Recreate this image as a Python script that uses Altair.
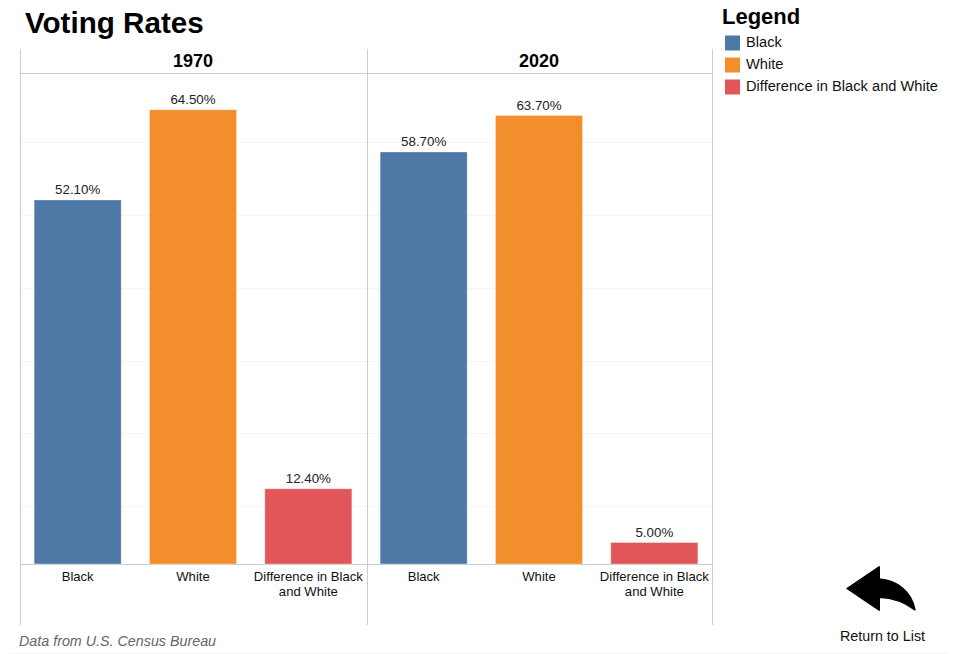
import altair as alt
import pandas as pd

years = ["1970", "1970", "1970", "2020", "2020", "2020"]
groups = ["Black", "White", "Difference in Black and White"] * 2
rates = [52.1, 64.5, 12.4, 58.7, 63.7, 5.0]
colors = ["#4e79a7", "#f28e2b", "#e15759"]
header_years = ["1970", "2020"]
grid_values = [10, 20, 30, 40, 50, 60]

FONT = "Liberation Sans"
BASE = 2.05

df = pd.DataFrame({"year": years, "group": groups, "rate": rates})
df["key"] = df["year"] + "|" + df["group"]
df["label"] = df["rate"].map(lambda v: f"{v:.2f}%")
df["base"] = BASE
key_order = df["key"].tolist()

hdr = pd.DataFrame({"key": [f"{y}|White" for y in header_years], "year": header_years})

x_scale = alt.Scale(domain=key_order, range=[-0.5, 691.5], paddingInner=0.245, paddingOuter=0.1225)
y_scale = alt.Scale(domain=[BASE, 69.55], range=[515, 24], nice=False, zero=False)

x_axis = alt.Axis(
    title=None, ticks=False, domainColor="#cccccc", labelAngle=0, labelFontSize=13.1,
    labelColor="#111111", labelPadding=6, labelLimit=200, labelLineHeight=15,
    labelExpr="indexof(datum.label,'Difference')>=0 ? ['Difference in Black','and White'] : split(datum.label,'|')[1]",
)
y_axis = alt.Axis(
    title=None, values=grid_values, grid=True, gridColor="#f5f5f5", labels=False,
    ticks=False, domain=False,
)

X = alt.X("key:N", scale=x_scale, axis=x_axis, sort=key_order)
Y = alt.Y("rate:Q", scale=y_scale, axis=y_axis)

bars = alt.Chart(df).mark_bar(stroke="#ffffff", strokeOpacity=0.35, strokeWidth=1).encode(
    x=X, y=Y, y2="base:Q",
    color=alt.Color(
        "group:N",
        scale=alt.Scale(domain=groups[:3], range=colors),
        legend=alt.Legend(
            title="Legend", orient="none", legendX=701.5, legendY=-42,
            titleFontSize=22, titleFont=FONT, titleFontWeight="bold", titleColor="#000000",
            titlePadding=6.5, labelFontSize=14.67, labelFont=FONT, labelColor="#111111",
            labelOffset=6, symbolType="square", symbolSize=225, symbolStrokeWidth=0,
            symbolOffset=3, rowPadding=6, labelLimit=300, titleLimit=200,
        ),
    ),
)

labels = alt.Chart(df).mark_text(baseline="bottom", dy=-3, fontSize=13.33, color="#222222", font=FONT).encode(
    x=X, y=Y, text="label:N"
)

headers = alt.Chart(hdr).mark_text(fontSize=18, fontWeight="bold", color="#000000", font=FONT).encode(
    x=X, y=alt.value(13), text="year:N"
)

one = alt.Data(values=[{"a": 1}])
rule_color = "#cccccc"
v_rules = [
    alt.Chart(one).mark_rule(color=rule_color).encode(x=alt.value(v), y=alt.value(0), y2=alt.value(576))
    for v in (0, 347, 692)
]
h_rule = alt.Chart(one).mark_rule(color=rule_color).encode(x=alt.value(0), x2=alt.value(692), y=alt.value(24.5))
foot_rule = alt.Chart(one).mark_rule(color="#f2f2f2").encode(x=alt.value(-12), x2=alt.value(934), y=alt.value(604.5))

footer = alt.Chart(one).mark_text(
    align="left", baseline="alphabetic", fontSize=14.3, fontStyle="italic", color="#666666", font=FONT
).encode(x=alt.value(-1.5), y=alt.value(597), text=alt.value("Data from U.S. Census Bureau"))

back_text = alt.Chart(one).mark_text(
    align="center", baseline="alphabetic", fontSize=14.3, color="#111111", font=FONT
).encode(x=alt.value(862), y=alt.value(592), text=alt.value("Return to List"))

ARROW = ("M-0.97 0 L-0.05 -0.62 L-0.05 -0.27 C0.45 -0.24 0.88 0.1 0.97 0.61 "
         "C0.72 0.42 0.4 0.27 -0.05 0.25 L-0.05 0.62 Z")
arrow = alt.Chart(one).mark_point(
    shape=ARROW, filled=True, size=4900, color="#000000", stroke="#000000", strokeWidth=1.5,
    strokeJoin="round", opacity=1,
).encode(x=alt.value(860.5), y=alt.value(539.5))

chart = alt.layer(
    bars, labels, headers, *v_rules, h_rule, foot_rule, footer, back_text, arrow
).properties(
    width=692, height=515,
    title=alt.TitleParams(
        "Voting Rates", anchor="start", frame="group", fontSize=29.6, fontWeight="bold", font=FONT,
        color="#000000", baseline="alphabetic", offset=-56, dx=4.5,
    ),
    autosize=alt.AutoSizeParams(type="none"),
    padding={"left": 12.5, "top": 41, "right": 235.5, "bottom": 90},
).configure_view(stroke=None)

chart.save("out.html", embed_options={"renderer": "svg", "actions": False})
